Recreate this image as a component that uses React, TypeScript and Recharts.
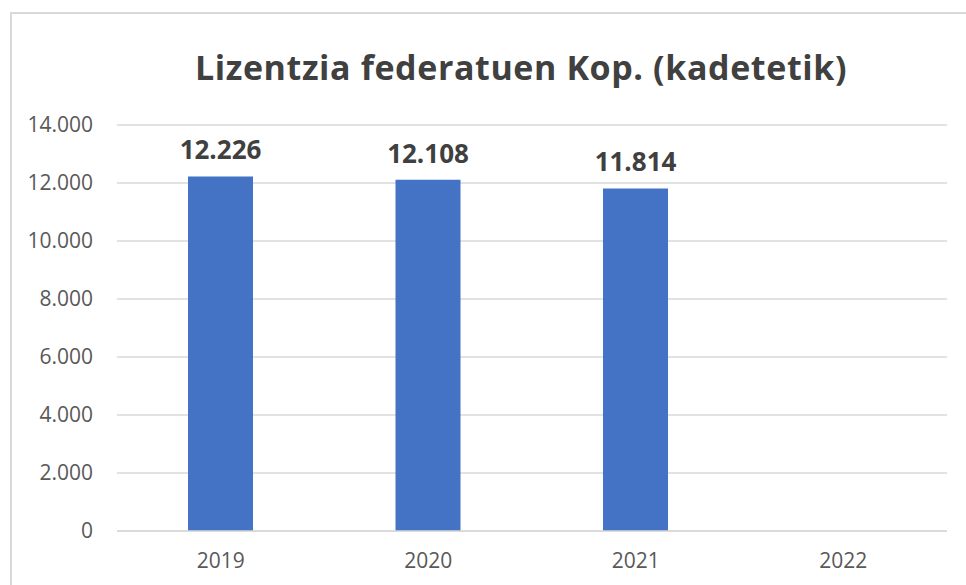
import React from "react";
import { BarChart, Bar, XAxis, YAxis, CartesianGrid, LabelList } from "recharts";

const years = ["2019", "2020", "2021", "2022"];
const licences: (number | null)[] = [12226, 12108, 11814, null];
const yTicks = [0, 2000, 4000, 6000, 8000, 10000, 12000, 14000];
const title = "Lizentzia federatuen Kop. (kadetetik)";

const fmt = (v: number | null | undefined) =>
  v == null ? "" : String(v).replace(/\B(?=(\d{3})+(?!\d))/g, ".");

const data = years.map((y, i) => ({ year: y, value: licences[i] }));

const FONT = "'Open Sans', sans-serif";

export default function App() {
  return (
    <div style={{ position: "absolute", left: 0, top: 0, width: 966, height: 585, background: "#fff", fontFamily: FONT }}>
      <div
        style={{
          position: "absolute",
          left: 10,
          top: 12,
          right: 0,
          bottom: 0,
          borderTop: "2px solid #d9d9d9",
          borderLeft: "2px solid #d9d9d9",
        }}
      />
      <div
        style={{
          position: "absolute",
          left: 0,
          width: 1042,
          top: 45,
          textAlign: "center",
          fontSize: 34,
          letterSpacing: 0.6,
          fontWeight: 700,
          color: "#404040",
          lineHeight: "44px",
          whiteSpace: "nowrap",
        }}
      >
        {title}
      </div>
      <div style={{ position: "absolute", left: 0, top: 0 }}>
        <BarChart width={966} height={585} data={data} margin={{ top: 125, right: 19, bottom: 0, left: 0 }}>
          <CartesianGrid vertical={false} stroke="#d9d9d9" strokeWidth={1.5} />
          <XAxis
            dataKey="year"
            height={54}
            tickLine={false}
            axisLine={{ stroke: "#d9d9d9", strokeWidth: 1.5 }}
            tickSize={0}
            tickMargin={22}
            tick={{ fill: "#595959", fontSize: 21, fontFamily: FONT }}
          />
          <YAxis
            width={117}
            domain={[0, 14000]}
            ticks={yTicks}
            interval={0}
            axisLine={false}
            tickLine={false}
            tickSize={0}
            tickMargin={24}
            tickFormatter={(v: number) => fmt(v)}
            tick={{ fill: "#595959", fontSize: 21, fontFamily: FONT }}
          />
          <Bar dataKey="value" fill="#4472C4" barSize={65} isAnimationActive={false}>
            <LabelList
              dataKey="value"
              position="top"
              offset={17}
              formatter={(v: any) => fmt(v)}
              style={{ fill: "#404040", fontSize: 26, fontWeight: 700, fontFamily: FONT }}
            />
          </Bar>
        </BarChart>
      </div>
    </div>
  );
}
